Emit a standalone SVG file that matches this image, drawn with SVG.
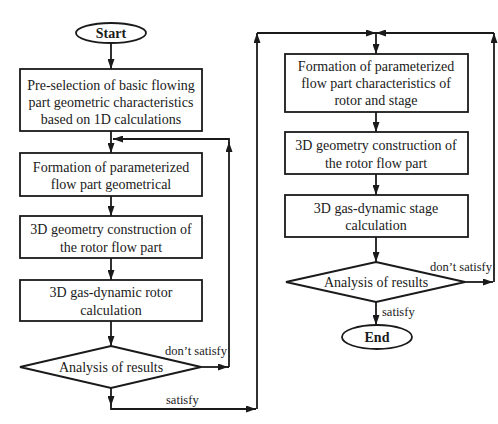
<svg xmlns="http://www.w3.org/2000/svg" width="498" height="424" viewBox="0 0 498 424">
<defs>
<style>
.box{fill:#fff;stroke:#1a1a1a;stroke-width:1.8}
.t{font-family:"Liberation Serif","Times New Roman",serif;font-size:14px;fill:#1a1a1a;text-anchor:middle}
.b{font-weight:bold}
.lbl{font-family:"Liberation Serif","Times New Roman",serif;font-size:12.5px;fill:#1a1a1a}
.c{fill:none;stroke:#1a1a1a;stroke-width:1.8}
.a{marker-end:url(#arr)}
</style>
<marker id="arr" markerUnits="userSpaceOnUse" markerWidth="10" markerHeight="7" refX="10" refY="3.5" orient="auto">
<path d="M0,0 L10,3.5 L0,7 z" fill="#1a1a1a"/>
</marker>
</defs>
<rect width="498" height="424" fill="#fff"/>
<g id="connectors">
<path class="c a" d="M111,43 V69"/>
<path class="c a" d="M111,131 V153"/>
<path class="c a" d="M111,196 V216"/>
<path class="c a" d="M111,258 V280"/>
<path class="c a" d="M111,321 V346"/>
<path class="c a" d="M201,367 H228"/>
<path class="c" d="M227,367 H229"/>
<path class="c a" d="M229,367 V142"/>
<path class="c a" d="M229,143 V139 H113"/>
<path class="c a" d="M111,388 V406"/>
<path class="c a" d="M111,405 V409 H256"/>
<path class="c a" d="M257,409 V33"/>
<path class="c a" d="M257,33 H376"/>
<path class="c a" d="M465,282 H493"/>
<path class="c a" d="M494,282 V33"/>
<path class="c a" d="M494,33 H376"/>
<path class="c a" d="M376,33 V54"/>
<path class="c a" d="M376,112 V132"/>
<path class="c a" d="M376,174 V195"/>
<path class="c a" d="M376,237 V262"/>
<path class="c a" d="M376,302 V325"/>
<text class="lbl" x="227" y="355" text-anchor="end">don’t satisfy</text>
<text class="lbl" x="166" y="404">satisfy</text>
<text class="lbl" x="492" y="271" text-anchor="end">don’t satisfy</text>
<text class="lbl" x="382" y="316">satisfy</text>
</g>
<g id="start">
<ellipse class="box" cx="111" cy="33" rx="35" ry="10"/>
<text class="t b" x="111" y="38">Start</text>
</g>
<g id="preselection">
<rect class="box" x="20" y="69" width="182" height="62"/>
<text class="t" x="111" y="90">Pre-selection of basic flowing</text>
<text class="t" x="111" y="107">part geometric characteristics</text>
<text class="t" x="111" y="124">based on 1D calculations</text>
</g>
<g id="formation1">
<rect class="box" x="20" y="153" width="182" height="43"/>
<text class="t" x="111" y="172">Formation of parameterized</text>
<text class="t" x="111" y="189">flow part geometrical</text>
</g>
<g id="geometry1">
<rect class="box" x="20" y="216" width="182" height="42"/>
<text class="t" x="111" y="234">3D geometry construction of</text>
<text class="t" x="111" y="252">the rotor flow part</text>
</g>
<g id="gasrotor">
<rect class="box" x="20" y="280" width="182" height="41"/>
<text class="t" x="111" y="297">3D gas-dynamic rotor</text>
<text class="t" x="111" y="315">calculation</text>
</g>
<g id="analysis1">
<polygon class="box" points="111,346 201,367 111,388 20,367"/>
<text class="t" x="111" y="372">Analysis of results</text>
</g>
<g id="formation2">
<rect class="box" x="285" y="54" width="183" height="58"/>
<text class="t" x="376" y="71">Formation of parameterized</text>
<text class="t" x="376" y="88">flow part characteristics of</text>
<text class="t" x="376" y="105">rotor and stage</text>
</g>
<g id="geometry2">
<rect class="box" x="285" y="132" width="183" height="42"/>
<text class="t" x="376" y="150">3D geometry construction of</text>
<text class="t" x="376" y="168">the rotor flow part</text>
</g>
<g id="gasstage">
<rect class="box" x="285" y="195" width="183" height="42"/>
<text class="t" x="376" y="213">3D gas-dynamic stage</text>
<text class="t" x="376" y="230">calculation</text>
</g>
<g id="analysis2">
<polygon class="box" points="376,262 465,282 376,302 286,282"/>
<text class="t" x="376" y="287">Analysis of results</text>
</g>
<g id="end">
<ellipse class="box" cx="377" cy="337" rx="35" ry="12"/>
<text class="t b" x="377" y="342">End</text>
</g>
</svg>
